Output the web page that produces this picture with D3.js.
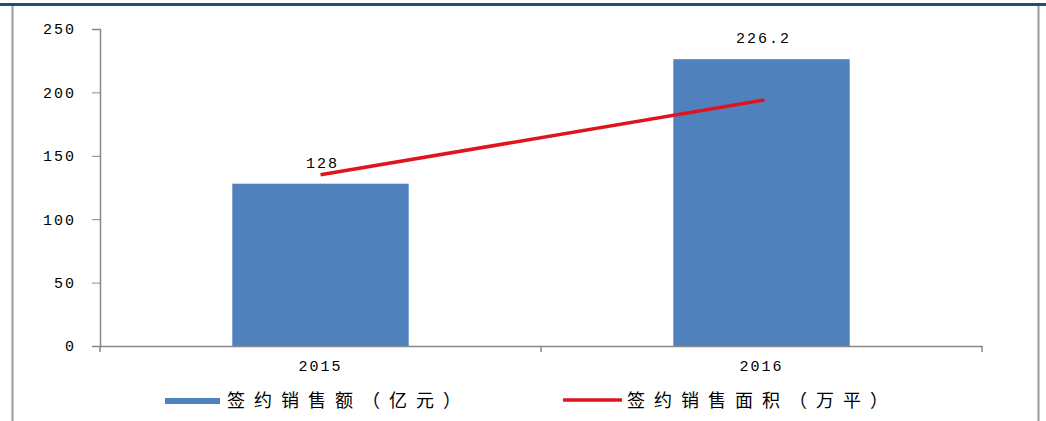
<!DOCTYPE html>
<html><head><meta charset="utf-8">
<script src="https://cdn.jsdelivr.net/npm/d3@7"></script>
<style>
body{margin:0;background:#fff;}
svg text{font-family:"Noto Sans CJK SC","DejaVu Sans",sans-serif;fill:#000;}
</style></head>
<body><svg id="c" width="1046" height="421"></svg>
<script>
const categories = ["2015", "2016"];
const salesAmount = [128, 226.2];      // 签约销售额（亿元）
const salesArea = [135, 194];          // 签约销售面积（万平）
const yTicks = [0, 50, 100, 150, 200, 250];
const barLabels = ["128", "226.2"];
const legendLabels = ["签约销售额（亿元）", "签约销售面积（万平）"];

(function(){
const svg = d3.select("#c");
const pLeft = 100, pRight = 982, pTop = 29, pBottom = 346;

// frame
svg.append("line").attr("x1",0).attr("x2",1046).attr("y1",4.5).attr("y2",4.5)
  .attr("stroke","#1f4e79").attr("stroke-width",3);
svg.append("line").attr("x1",12.5).attr("x2",12.5).attr("y1",6).attr("y2",421)
  .attr("stroke","#9a9a9a").attr("stroke-width",2);
svg.append("line").attr("x1",1038.5).attr("x2",1038.5).attr("y1",6).attr("y2",421)
  .attr("stroke","#9a9a9a").attr("stroke-width",2);

const x = d3.scaleBand().domain(categories).range([pLeft, pRight]).paddingInner(0).paddingOuter(0);
const y = d3.scaleLinear().domain([0, 250]).range([pBottom, pTop]);
const bw = x.bandwidth() * 0.4;

// bars
svg.selectAll("rect.bar").data(categories).enter().append("rect")
  .attr("x", d => x(d) + x.bandwidth()/2 - bw/2)
  .attr("width", bw)
  .attr("y", (d,i) => y(salesAmount[i]))
  .attr("height", (d,i) => y(0) - y(salesAmount[i]))
  .attr("fill", "#4f81bd");

const monoFont = "'Liberation Mono','DejaVu Sans Mono',monospace";

// y axis
const yAxis = d3.axisLeft(y).tickValues(yTicks).tickSize(8).tickPadding(16);
const gy = svg.append("g").attr("transform", `translate(${pLeft},0)`).call(yAxis);
gy.select(".domain").attr("stroke","#888").attr("stroke-width",1.5);
gy.selectAll(".tick line").attr("stroke","#888");
gy.selectAll(".tick text").attr("font-size",15).attr("letter-spacing","2px")
  .style("font-family",monoFont).attr("fill","#111");

// x axis
const xAxis = d3.axisBottom(x).tickSize(0).tickPadding(14);
const gx = svg.append("g").attr("transform", `translate(0,${pBottom})`).call(xAxis);
gx.select(".domain").attr("stroke","#888").attr("stroke-width",1.5);
gx.selectAll(".tick text").attr("font-size",15).attr("letter-spacing","2px")
  .style("font-family",monoFont).attr("fill","#111");
// category separator ticks
const seps = [pLeft].concat(categories.map(c => x(c) + x.bandwidth()));
svg.selectAll("line.sep").data(seps).enter().append("line")
  .attr("x1", d => d).attr("x2", d => d).attr("y1", pBottom).attr("y2", pBottom + 6)
  .attr("stroke","#888").attr("stroke-width",1.5);

// line
const line = d3.line().x((d,i) => x(categories[i]) + x.bandwidth()/2 + (i ? 3 : 0)).y(d => y(d));
svg.append("path").datum(salesArea).attr("d", line)
  .attr("fill","none").attr("stroke","#e0141e").attr("stroke-width",3.5);

// bar labels
svg.selectAll("text.lbl").data(categories).enter().append("text")
  .attr("x", d => x(d) + x.bandwidth()/2 + 2)
  .attr("y", (d,i) => y(salesAmount[i]) - 16)
  .attr("text-anchor","middle").attr("font-size",15).attr("letter-spacing","2px")
  .style("font-family",monoFont)
  .text((d,i) => barLabels[i]);

// legend
svg.append("rect").attr("x",165).attr("y",398).attr("width",55).attr("height",6).attr("fill","#4f81bd");
svg.append("text").attr("x",227).attr("y",407).style("font-size","18px").style("letter-spacing","9px").text(legendLabels[0]);
svg.append("line").attr("x1",563).attr("x2",622).attr("y1",400).attr("y2",400)
  .attr("stroke","#e0141e").attr("stroke-width",3.5);
svg.append("text").attr("x",627).attr("y",407).style("font-size","18px").style("letter-spacing","9px").text(legendLabels[1]);
})();
</script></body></html>
